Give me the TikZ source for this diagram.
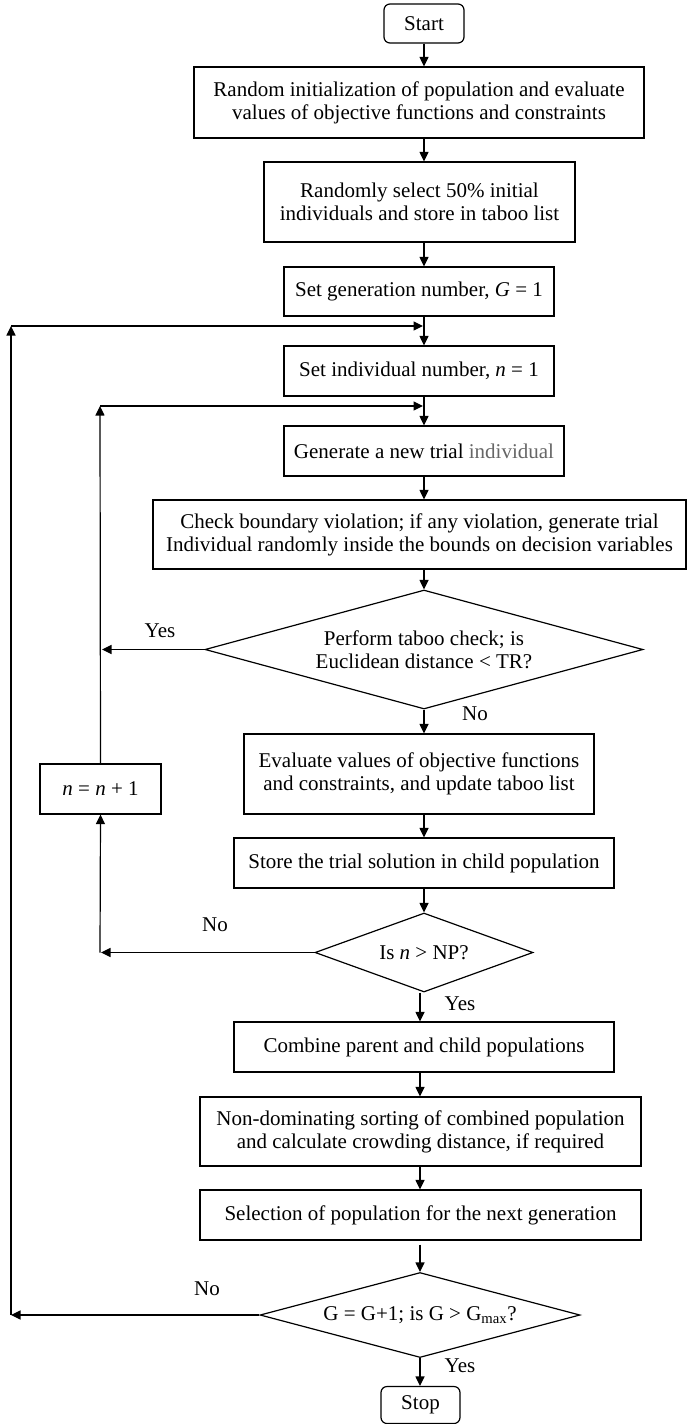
\documentclass[tikz,border=0pt]{standalone}
\usepackage{fontspec}
\setmainfont{Liberation Serif}
\usetikzlibrary{arrows.meta,shapes.geometric,calc}
\begin{document}
\begin{tikzpicture}[x=1pt,y=-1pt,line width=1.2pt,
  every node/.style={font=\fontsize{21}{23}\selectfont,inner sep=0pt},
  box/.style={draw,rectangle,align=center},
  term/.style={draw,rectangle,rounded corners=6pt,align=center},
  dec/.style={draw,diamond,align=center},
  arr/.style={-{Triangle[length=9.5pt,width=9pt]}},
  lbl/.style={}]
\useasboundingbox (0,0) rectangle (687,1424);
% nodes
\node[term,minimum width=80,minimum height=39] (start) at (424,23.5) {Start};
\node[box,minimum width=450,minimum height=71] (b1) at (419,102.5)
  {Random initialization of population and evaluate\\values of objective functions and constraints};
\node[box,minimum width=311,minimum height=80] (b2) at (419.5,202)
  {Randomly select 50\% initial\\individuals and store in taboo list};
\node[box,minimum width=270,minimum height=49] (b3) at (419,291.5)
  {Set generation number, \textit{G} = 1};
\node[box,minimum width=270,minimum height=50] (b4) at (419,371)
  {Set individual number, \textit{n} = 1};
\node[box,minimum width=280,minimum height=50] (b5) at (424,451)
  {Generate a new trial {\color{black!60}individual}};
\node[box,minimum width=533,minimum height=69] (b6) at (419.5,534.5)
  {Check boundary violation; if any violation, generate trial\\Individual randomly inside the bounds on decision variables};
\node[dec,aspect=3.68,minimum width=438,minimum height=119] (d1) at (424,649.5)
  {Perform taboo check; is\\Euclidean distance < TR?};
\node[box,minimum width=350,minimum height=80] (b7) at (419,774)
  {Evaluate values of objective functions\\and constraints, and update taboo list};
\node[box,minimum width=121,minimum height=50] (ninc) at (100.5,789)
  {\textit{n} = \textit{n} + 1};
\node[box,minimum width=380,minimum height=50] (b8) at (424,863)
  {Store the trial solution in child population};
\node[dec,aspect=2.76,minimum width=218,minimum height=79] (d2) at (424,952.5)
  {Is \textit{n} > NP?};
\node[box,minimum width=380,minimum height=50] (b9) at (424,1047)
  {Combine parent and child populations};
\node[box,minimum width=441,minimum height=69] (b10) at (420.5,1131.5)
  {Non-dominating sorting of combined population\\and calculate crowding distance, if required};
\node[box,minimum width=441,minimum height=50] (b11) at (420.5,1215)
  {Selection of population for the next generation};
\node[dec,aspect=3.76,minimum width=320,minimum height=85] (d3) at (420,1315)
  {G = G+1; is G > G\textsubscript{max}?};
\node[term,minimum width=79,minimum height=37] (stop) at (420.5,1405)
  {Stop};
% columns
\coordinate (colA) at (424,0);
\coordinate (colB) at (420,0);
% main arrows
\draw[arr] (start.south -| colA) -- (b1.north -| colA);
\draw[arr] (b1.south -| colA) -- (b2.north -| colA);
\draw[arr] (b2.south -| colA) -- (b3.north -| colA);
\draw[arr] (b3.south -| colA) -- (b4.north -| colA);
\draw[arr] (b4.south -| colA) -- (b5.north -| colA);
\draw[arr] (b5.south -| colA) -- (b6.north -| colA);
\draw[arr] (b6.south -| colA) -- (d1.north);
\draw[arr] (d1.south) -- (b7.north -| d1.south);
\draw[arr] (b7.south -| colA) -- (b8.north -| colA);
\draw[arr] (b8.south -| colA) -- (d2.north);
\draw[arr] (d2.south -| colB) -- (b9.north -| colB);
\draw[arr] (b9.south -| colB) -- (b10.north -| colB);
\draw[arr] (b10.south -| colB) -- (b11.north -| colB);
\coordinate (b11out) at ($(b11.south -| colB)+(0,4)$);
\draw[arr] (b11out) -- (d3.north);
\draw[arr] (d3.south) -- (stop.north -| d3.south);
% n loop
\coordinate (ntop) at (100,406);
\coordinate (njoin) at (423,406);
\coordinate (yesend) at (102,649.5);
\coordinate (nobend) at (101,952.5);
\coordinate (nocorner) at (100,952.5);
\draw[arr] (d1.west) -- (yesend);
\draw[arr] (ninc.north) -- (ntop);
\draw[arr] (ntop) -- (njoin);
\draw[arr] (d2.west) -- (nobend);
\draw[arr] (nocorner) -- (ninc.south);
% G loop
\coordinate (gbot) at (11,1315);
\coordinate (gtop) at (11,326);
\coordinate (gjoin) at (423,326);
\draw[arr] (d3.west) -- (gbot);
\draw[arr] (gbot) -- (gtop);
\draw[arr] (gtop) -- (gjoin);
% labels
\node[lbl] (yes1) at (160,631) {Yes};
\node[lbl] (no1) at (475,714) {No};
\node[lbl] (no2) at (215,925) {No};
\node[lbl] (yes2) at (460,1004) {Yes};
\node[lbl] (no3) at (207,1289) {No};
\node[lbl] (yes3) at (460,1366) {Yes};
\end{tikzpicture}
\end{document}
